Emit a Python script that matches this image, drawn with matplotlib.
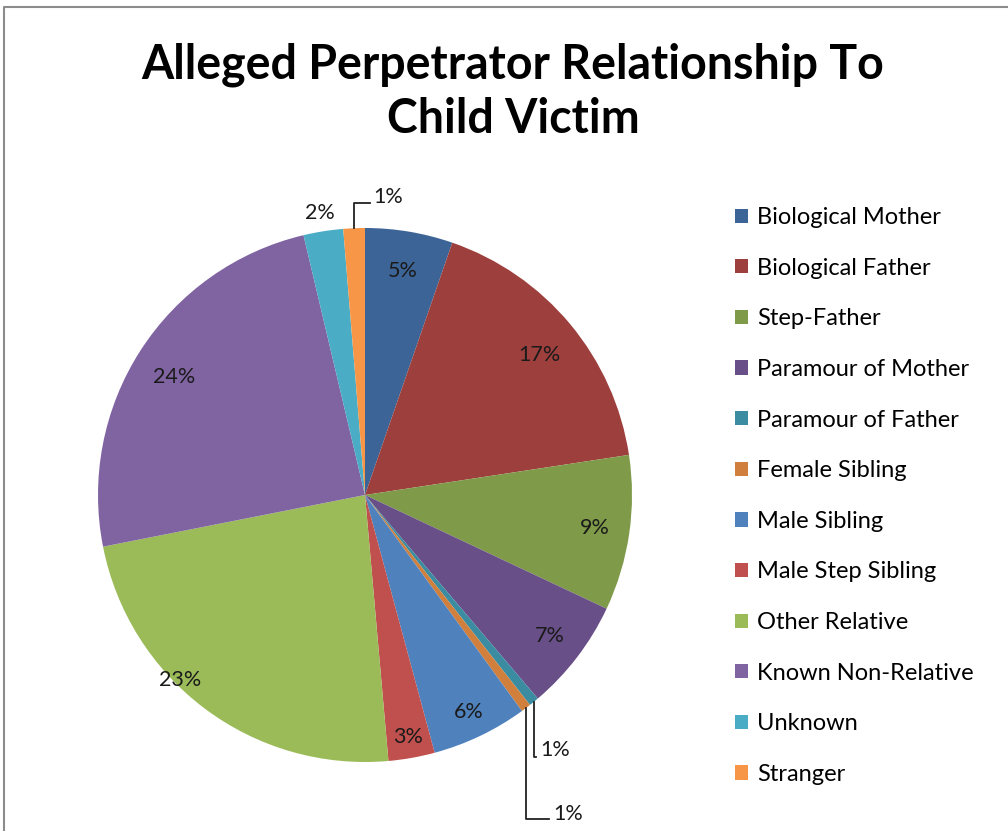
import matplotlib
matplotlib.use("Agg")
import matplotlib.pyplot as plt
import numpy as np
from matplotlib.lines import Line2D

title = "Alleged Perpetrator Relationship To\nChild Victim"
categories = ["Biological Mother", "Biological Father", "Step-Father",
              "Paramour of Mother", "Paramour of Father", "Female Sibling",
              "Male Sibling", "Male Step Sibling", "Other Relative",
              "Known Non-Relative", "Unknown", "Stranger"]
values = [5.3, 17.3, 9.4, 6.8, 0.6, 0.6, 5.8, 2.8, 23.3, 24.4, 2.4, 1.3]
colors = ["#3D6496", "#9D3F3C", "#7F9A48", "#684F88", "#3B8CA1", "#D0803C",
          "#4F81BD", "#C0504D", "#9BBB59", "#8064A2", "#4BACC6", "#F79646"]

# label placement (radius factor, angle offset in deg) per slice; None => leader line label
label_r = [0.85, 0.84, 0.87, 0.87, None, None, 0.90, 0.92, 0.98, 0.84, 1.07, None]
label_da = [0, -1, 0, 0, 0, 0, 0, 0, -8, 1, 0, 0]

W, H = 1008, 831
fig = plt.figure(figsize=(W / 100, H / 100), dpi=100)
fig.patch.set_facecolor("white")

cx, cy, R = 365, 495, 267
ax = fig.add_axes([(cx - R) / W, (H - cy - R) / H, 2 * R / W, 2 * R / H])

wedges, _ = ax.pie(values, colors=colors, startangle=90, counterclock=False,
                   radius=1, wedgeprops=dict(linewidth=0))
ax.set_xlim(-1, 1)
ax.set_ylim(-1, 1)
ax.set_aspect("equal")
ax.axis("off")

total = sum(values)
font = "Lato"
pct_fs = 15.5
for w, v, rf, da in zip(wedges, values, label_r, label_da):
    txt = f"{v / total * 100:.0f}%"
    mid = np.deg2rad((w.theta1 + w.theta2) / 2 + da)
    if rf is not None:
        ax.text(rf * np.cos(mid), rf * np.sin(mid), txt, ha="center", va="center",
                fontsize=pct_fs, family=font, color="#1a1a1a")

# leader-line labels for tiny slices
def leader(idx, y_end, x_end, text_x, text_y):
    w = wedges[idx]
    mid = np.deg2rad((w.theta1 + w.theta2) / 2)
    x0, y0 = np.cos(mid), np.sin(mid)
    ax.add_line(Line2D([x0, x0, x_end], [y0, y_end, y_end], color="#222222",
                       lw=1.3, clip_on=False))
    txt = f"{values[idx] / total * 100:.0f}%"
    ax.text(text_x, text_y, txt, ha="left", va="center", fontsize=pct_fs,
            family=font, color="#1a1a1a", clip_on=False)

leader(4, -0.98, 0.64, 0.655, -0.955)
leader(5, -1.215, 0.69, 0.705, -1.195)
leader(11, 1.095, 0.02, 0.03, 1.115)

fig.text(513 / W, 1 - 92 / H, title, ha="center", va="center", fontsize=33.5,
         fontweight="bold", family=font, linespacing=1.29)

handles = [plt.Rectangle((0, 0), 1, 1, facecolor=c, edgecolor="none") for c in colors]
leg = fig.legend(handles, categories, loc="upper left",
                 bbox_to_anchor=(735 / W, 1 - 207 / H), frameon=False,
                 prop=dict(family=font, size=17), handlelength=0.55,
                 handleheight=0.55, handletextpad=0.38, labelspacing=1.255,
                 borderpad=0, borderaxespad=0)

# chart area border
fig.add_artist(Line2D([4 / W, 4 / W, 1.0], [0, 1 - 7 / H, 1 - 7 / H],
                      transform=fig.transFigure, color="#8c8c8c", lw=1.5))

fig.savefig("out.png", dpi=100, facecolor="white")
